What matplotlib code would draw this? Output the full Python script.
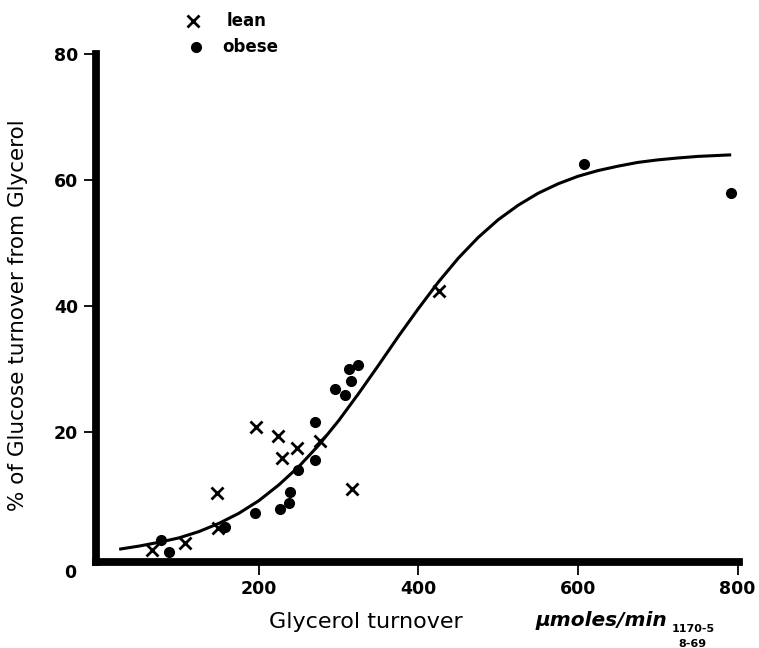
import matplotlib
matplotlib.use("Agg")
import matplotlib.pyplot as plt
from matplotlib.lines import Line2D

# ---------- data ----------
lean_x = [66, 107, 147, 149, 196, 224, 229, 248, 277, 317, 426]
lean_y = [1.3, 2.4, 10.3, 4.7, 20.8, 19.3, 15.8, 17.5, 18.5, 10.9, 42.4]

obese_x = [78, 87, 158, 195, 226, 238, 239, 249, 270, 270, 295, 308, 313, 315, 324, 607, 792]
obese_y = [2.9, 0.9, 4.9, 7.2, 7.8, 8.7, 10.5, 14.0, 15.6, 21.6, 26.8, 25.9, 30.0, 28.1, 30.6, 62.6, 57.9]

# hand-drawn curve, traced
curve_x = [25, 50, 75, 100, 125, 150, 175, 200, 225, 250, 275, 300, 325, 350, 375,
           400, 425, 450, 475, 500, 525, 550, 575, 600, 625, 650, 675, 700, 725,
           750, 775, 792]
curve_y = [1.4, 1.9, 2.5, 3.2, 4.2, 5.5, 7.1, 9.1, 11.6, 14.5, 17.9, 21.8, 26.1, 30.6, 35.2,
           39.6, 43.8, 47.6, 50.9, 53.7, 56.0, 57.9, 59.4, 60.6, 61.5, 62.2, 62.8, 63.2, 63.5,
           63.75, 63.9, 64.0]

x_ticks = [200, 400, 600, 800]
y_ticks = [20, 40, 60, 80]

FONT = "DejaVu Sans"

fig = plt.figure(figsize=(7.59, 6.48), dpi=100)
ax = fig.add_axes([0.1265, 0.1330, 0.8474, 0.7836])

ax.plot(curve_x, curve_y, color="black", lw=2.2, solid_capstyle="butt",
        solid_joinstyle="round", clip_on=False)
ax.plot(lean_x, lean_y, "x", color="black", ms=8.5, mew=2.0, clip_on=False)
ax.plot(obese_x, obese_y, "o", color="black", ms=7, clip_on=False)

ax.set_xlim(-4, 802)
ax.set_ylim(-0.6, 80)

for s in ["top", "right"]:
    ax.spines[s].set_visible(False)
for s in ["left", "bottom"]:
    ax.spines[s].set_linewidth(5.6)

ax.set_xticks(x_ticks)
ax.set_yticks(y_ticks)
ax.set_xticklabels([str(v) for v in x_ticks], fontsize=12.5, fontweight="bold", family=FONT)
ax.set_yticklabels([str(v) for v in y_ticks], fontsize=12.5, fontweight="bold", family=FONT)
ax.tick_params(axis="both", direction="out", length=9, width=1.3, pad=4)

# the lone "0" at the corner
fig.text(0.0922, 0.1157, "0", fontsize=12.5, fontweight="bold", family=FONT,
         ha="center", va="center")

# axis titles
fig.text(0.024, 0.514, "% of Glucose turnover from Glycerol", rotation=90,
         fontsize=15.5, family=FONT, ha="center", va="center")
fig.text(0.482, 0.040, "Glycerol turnover", fontsize=16, family=FONT,
         ha="center", va="center")
fig.text(0.792, 0.043, "\u00b5moles/min", fontsize=14.5, family=FONT,
         fontstyle="italic", fontweight="bold", ha="center", va="center")

# figure code in the corner
fig.text(0.913, 0.029, "1170-5", fontsize=8, fontweight="bold", family=FONT,
         ha="center", va="center")
fig.text(0.912, 0.006, "8-69", fontsize=8, fontweight="bold", family=FONT,
         ha="center", va="center")

# legend, drawn by hand like the original
fig.add_artist(Line2D([0.2543], [0.9676], marker="x", color="black", ms=8.5, mew=2.0,
                      transform=fig.transFigure))
fig.add_artist(Line2D([0.2582], [0.9275], marker="o", color="black", ms=7, lw=0,
                      transform=fig.transFigure))
fig.text(0.299, 0.9676, "lean", fontsize=12, fontweight="bold", family=FONT,
         ha="left", va="center")
fig.text(0.2925, 0.9275, "obese", fontsize=12, fontweight="bold", family=FONT,
         ha="left", va="center")

fig.savefig("out.png", dpi=100)
